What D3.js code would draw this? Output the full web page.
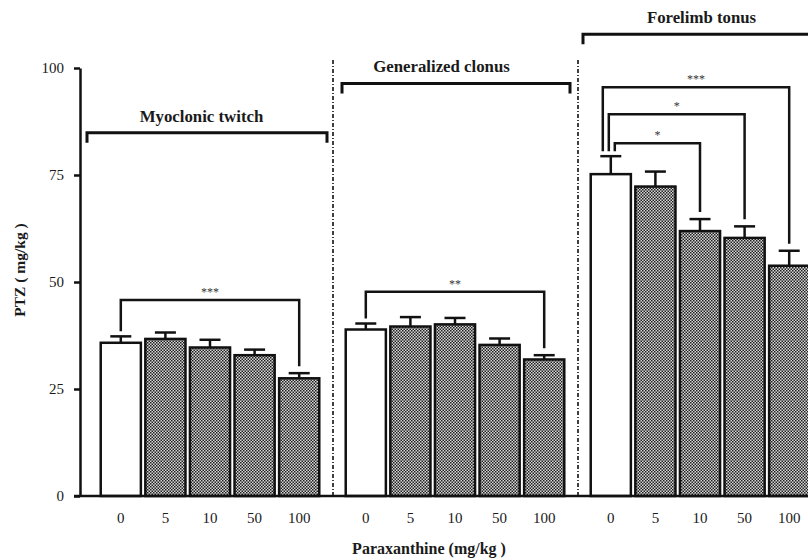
<!DOCTYPE html>
<html>
<head>
<meta charset="utf-8">
<script src="https://cdn.jsdelivr.net/npm/d3@7"></script>
<style>
  body { margin: 0; background: #fff; }
  svg { display: block; }
  text { font-family: "Liberation Serif", serif; fill: #1a1a1a; }
</style>
</head>
<body>
<svg id="chart" width="808" height="560"></svg>
<script>
// data
var groups = ["Myoclonic twitch", "Generalized clonus", "Forelimb tonus"]
var doses = ["0", "5", "10", "50", "100"]
var myoclonicMean = [35.8, 36.7, 34.7, 32.9, 27.5]
var myoclonicSem = [1.5, 1.5, 1.8, 1.3, 1.2]
var clonusMean = [38.9, 39.6, 40.1, 35.3, 31.9]
var clonusSem = [1.4, 2.2, 1.5, 1.5, 1.0]
var tonusMean = [75.2, 72.3, 61.9, 60.3, 53.8]
var tonusSem = [4.2, 3.5, 2.8, 2.7, 3.5]
var yTicks = [0, 25, 50, 75, 100]
// significance vs. control: group index, compared dose, label, bracket height (PTZ units)
var sigGroup = [0, 1, 2, 2, 2]
var sigDose = ["100", "100", "100", "50", "10"]
var sigLabel = ["***", "**", "***", "*", "*"]
var sigLevel = [45.8, 47.7, 95.5, 89.2, 82.4]
var groupBracketLevel = [84.9, 96.4, 107.9]

var means = [myoclonicMean, clonusMean, tonusMean]
var sems = [myoclonicSem, clonusSem, tonusSem]

// layout
var svg = d3.select("#chart")
var y = d3.scaleLinear().domain([0, 100]).range([496, 68])
var x0 = d3.scaleBand().domain(groups).range([88, 823])
var x1 = d3.scaleBand().domain(doses).range([10.5, 233.5]).paddingInner(0.1).paddingOuter(0.05)
var catPad = [[-1, 6], [9, 8], [5, -20]]
var catLabelDx = [-9, -14, 1]
var leftLegDx = [0, 0, -8, -2, 4]

function cx(gi, dose) {
	return x0(groups[gi]) + x1(dose) + x1.bandwidth() / 2
}

// hatch pattern
var defs = svg.append("defs")
var pat = defs.append("pattern").attr("id", "checker").attr("patternUnits", "userSpaceOnUse")
		.attr("width", 3).attr("height", 3)
pat.append("rect").attr("width", 3).attr("height", 3).attr("fill", "#d8d8d8")
pat.append("rect").attr("width", 1.5).attr("height", 1.5).attr("fill", "#1e1e1e")
pat.append("rect").attr("x", 1.5).attr("y", 1.5).attr("width", 1.5).attr("height", 1.5).attr("fill", "#1e1e1e")

// separators
svg.selectAll("line.sep").data(groups.slice(1)).enter().append("line")
	.attr("class", "sep")
	.attr("x1", function(d) { return x0(d) }).attr("x2", function(d) { return x0(d) })
	.attr("y1", 60).attr("y2", y(0))
	.attr("stroke", "#111").attr("stroke-width", 1.6).attr("stroke-dasharray", "4,2,1,2")

// bars
var rows = []
groups.forEach(function(g, gi) {
	doses.forEach(function(d, di) {
		rows.push({ g: g, gi: gi, dose: d, di: di, v: means[gi][di], e: sems[gi][di] })
	})
})

var gBars = svg.append("g")
gBars.selectAll("rect").data(rows).enter().append("rect")
	.attr("x", function(d) { return x0(d.g) + x1(d.dose) })
	.attr("y", function(d) { return y(d.v) })
	.attr("width", x1.bandwidth())
	.attr("height", function(d) { return y(0) - y(d.v) })
	.attr("fill", function(d) { return d.di == 0 ? "#fff" : "url(#checker)" })
	.attr("stroke", "#111").attr("stroke-width", 2.5)

// error bars
var gErr = svg.append("g").attr("stroke", "#111").attr("stroke-width", 2.5)
gErr.selectAll("line.v").data(rows).enter().append("line")
	.attr("x1", function(d) { return cx(d.gi, d.dose) }).attr("x2", function(d) { return cx(d.gi, d.dose) })
	.attr("y1", function(d) { return y(d.v) }).attr("y2", function(d) { return y(d.v + d.e) })
gErr.selectAll("line.c").data(rows).enter().append("line")
	.attr("x1", function(d) { return cx(d.gi, d.dose) - 10.5 }).attr("x2", function(d) { return cx(d.gi, d.dose) + 10.5 })
	.attr("y1", function(d) { return y(d.v + d.e) }).attr("y2", function(d) { return y(d.v + d.e) })

// significance brackets
var gSig = svg.append("g").attr("opacity", 0.99)
sigLabel.forEach(function(lab, i) {
	var gi = sigGroup[i]
	var di = doses.indexOf(sigDose[i])
	var xl = cx(gi, "0") + leftLegDx[i]
	var xr = cx(gi, sigDose[i])
	var yl = y(means[gi][0] + sems[gi][0]) - 5
	var yr = y(means[gi][di] + sems[gi][di]) - 7
	var yt = y(sigLevel[i])
	gSig.append("path")
		.attr("d", "M" + xl + "," + yl + "V" + yt + "H" + xr + "V" + yr)
		.attr("fill", "none").attr("stroke", "#111").attr("stroke-width", 2.5)
	gSig.append("text").attr("x", (xl + xr) / 2).attr("y", yt - 4)
		.attr("text-anchor", "middle").style("font-size", "12px").style("fill", "#333")
		.text(lab)
})

// group brackets
groups.forEach(function(g, gi) {
	var xa = x0(g) + catPad[gi][0]
	var xb = x0(g) + x0.bandwidth() - catPad[gi][1]
	var yt = y(groupBracketLevel[gi])
	svg.append("path")
		.attr("d", "M" + xa + "," + (yt + 10) + "V" + yt + "H" + xb + "V" + (yt + 10))
		.attr("fill", "none").attr("stroke", "#111").attr("stroke-width", 3)
	svg.append("text").attr("x", x0(g) + x0.bandwidth() / 2 + catLabelDx[gi]).attr("y", yt - 11)
		.attr("text-anchor", "middle").style("font-size", "16.8px").style("font-weight", "bold")
		.text(g)
})

// y axis
var yAxis = svg.append("g").attr("transform", "translate(80,0)")
	.call(d3.axisLeft(y).tickValues(yTicks).tickSize(6).tickSizeOuter(0).tickPadding(10))
yAxis.select(".domain").attr("stroke", "#111").attr("stroke-width", 2.5)
yAxis.selectAll(".tick line").attr("stroke", "#111").attr("stroke-width", 2.5)
yAxis.selectAll(".tick text").style("font-family", "Liberation Serif").style("font-size", "15px").attr("fill", "#222")

// x baseline + labels
svg.append("line").attr("x1", 74).attr("x2", 808).attr("y1", y(0)).attr("y2", y(0))
	.attr("stroke", "#111").attr("stroke-width", 2.5)
groups.forEach(function(g) {
	var ax = svg.append("g").attr("transform", "translate(" + x0(g) + "," + y(0) + ")")
		.call(d3.axisBottom(x1).tickSize(0).tickPadding(16))
	ax.select(".domain").remove()
	ax.selectAll(".tick text").style("font-family", "Liberation Serif").style("font-size", "15px").attr("fill", "#222")
})

// axis titles
svg.append("text").attr("transform", "translate(25,270) rotate(-90)")
	.attr("text-anchor", "middle").style("font-size", "15.5px").style("font-weight", "bold")
	.text("PTZ ( mg/kg )")
svg.append("text").attr("x", 429).attr("y", 554)
	.attr("text-anchor", "middle").style("font-size", "16px").style("font-weight", "bold")
	.text("Paraxanthine (mg/kg )")
</script>
</body>
</html>
